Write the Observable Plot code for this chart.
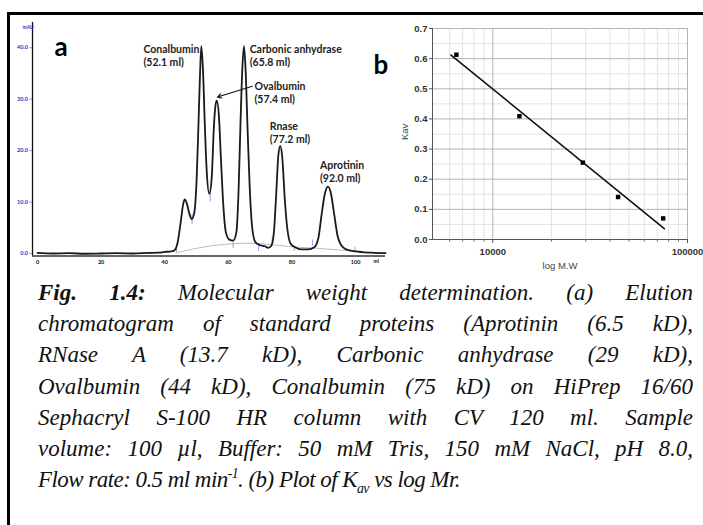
<!DOCTYPE html>
<html>
<head>
<meta charset="utf-8">
<script src="https://cdn.jsdelivr.net/npm/d3@7"></script>
<script src="https://cdn.jsdelivr.net/npm/@observablehq/plot@0.6"></script>
<style>
  html, body { margin: 0; padding: 0; background: #fff; }
  #wrap { position: relative; width: 703px; height: 525px; overflow: hidden; background: #fff; }
  #pa { position: absolute; left: 0; top: 0; }
  #pb { position: absolute; left: 380px; top: 0; }
  #frame { position: absolute; left: 7px; top: 12px; width: 720px; height: 540px;
           border-left: 3px solid #000; border-top: 3px solid #000; pointer-events: none; }
  #cap { position: absolute; left: 38px; top: 277px; width: 655px;
         font-family: "Liberation Serif", serif; font-style: italic; font-size: 23px; color: #111; }
  #cap div { height: 31.2px; line-height: 31.2px; white-space: nowrap;
             text-align: justify; text-align-last: justify; }
  #cap div.last { text-align: left; text-align-last: left; letter-spacing: -0.55px; }
  #cap sub, #cap sup { font-size: 60%; line-height: 0; }
</style>
</head>
<body>
<div id="wrap">
  <div id="pa"></div>
  <div id="pb"></div>
  <div id="frame"></div>
  <div id="cap"></div>
</div>
<script>
// ---------- Panel a: elution chromatogram ----------
const traceML = [0, 5, 10, 15, 20, 25, 30, 35, 38, 40, 42, 43, 44, 45, 45.8, 46.3, 47, 47.8, 48.5, 49.3, 50, 50.6, 51.1, 51.5, 52.0, 52.6, 53.2, 54.0, 54.8, 55.4, 56.0, 56.4, 57.0, 57.7, 58.4, 59.2, 60.3, 61.5, 62.5, 63.2, 63.8, 64.4, 64.9, 65.4, 66.0, 66.7, 67.5, 68.5, 70, 71.5, 72.5, 73.5, 74.3, 75.0, 75.7, 76.3, 76.9, 77.8, 78.5, 79.5, 81, 83, 85, 87, 88.3, 89.3, 90.3, 91.3, 92.2, 93.3, 94.3, 95.5, 97, 100, 105, 109.4];
const traceAU = [0.1, 0.0, 0.05, -0.05, 0.0, 0.05, 0.0, 0.1, 0.15, 0.3, 0.4, 0.6, 2.0, 6.0, 9.6, 10.5, 9.6, 7.6, 6.7, 8.0, 14, 25, 35, 40.3, 36, 25, 16, 11.6, 15, 24, 29, 29.7, 27, 18, 9.5, 4.2, 2.7, 2.5, 4, 12, 25, 36, 40.3, 36, 25, 13, 5, 2.2, 1.6, 1.4, 1.1, 1.5, 4, 11, 19, 20.9, 19, 10, 5, 2, 1.2, 0.8, 0.8, 1.2, 3, 7.5, 11.5, 13.0, 11.8, 7.5, 3.5, 1.6, 0.8, 0.4, 0.15, 0.05];
const baseML = [43.5, 50, 56, 62, 66, 72, 80, 88, 97, 102];
const baseAU = [0.1, 1.0, 1.6, 1.9, 2.0, 1.8, 1.3, 1.0, 0.6, 0.4];
const markML = [43.7, 48.6, 54.3, 61.5, 69.5, 73.8, 80.7, 86.5, 99.8];
const markLo = [0.2, 5.6, 10.0, 1.0, 0.4, 1.8, 0.4, 1.4, 0.2];
const markHi = [1.2, 7.6, 12.2, 2.2, 1.4, 3.2, 1.4, 2.6, 1.2];
const xTicksA = [0, 20, 40, 60, 80, 100];
const yTicksA = [0, 10, 20, 30, 40];
const peakNames = ["Conalbumin", "Carbonic anhydrase", "Ovalbumin", "Rnase", "Aprotinin"];
const peakVols = ["(52.1 ml)", "(65.8 ml)", "(57.4 ml)", "(77.2 ml)", "(92.0 ml)"];
const labelML = [33.3, 66.7, 68.2, 73.0, 88.8];
const labelAU = [39.7, 39.7, 32.5, 24.7, 17.0];
const arrowFrom = [67.5, 32.5];
const arrowTo = [56.6, 30.4];

const xMinA = -1.57, xMaxA = 109.4, yMinA = -0.49, yMaxA = 44.9;
const trace = traceML.map((v, i) => ({ml: v, au: traceAU[i]}));
const base = baseML.map((v, i) => ({ml: v, au: baseAU[i]}));
const marks = markML.map((v, i) => ({ml: v, lo: markLo[i], hi: markHi[i]}));
const labels = peakNames.map((n, i) => ({ml: labelML[i], au: labelAU[i], name: n, vol: peakVols[i]}));
const blue = "#2636d0";

const pa = Plot.plot({
  width: 390, height: 270,
  marginLeft: 32, marginRight: 5, marginTop: 22, marginBottom: 14.5,
  style: {background: "transparent", overflow: "visible", fontFamily: "Lato, sans-serif"},
  x: {domain: [xMinA, xMaxA]},
  y: {domain: [yMinA, yMaxA]},
  marks: [
    Plot.line(base, {x: "ml", y: "au", stroke: "#aaa", strokeWidth: 0.8, curve: "monotone-x"}),
    Plot.ruleX(marks, {x: "ml", y1: "lo", y2: "hi", stroke: "#8fa0f0", strokeWidth: 1}),
    Plot.line(trace, {x: "ml", y: "au", stroke: "#1a1a1a", strokeWidth: 1.8, curve: "monotone-x"}),
    Plot.ruleX([xMinA], {stroke: "#111", strokeWidth: 1.3}),
    Plot.ruleY([yMinA], {stroke: "#333", strokeWidth: 1.6}),
    Plot.axisY(yTicksA, {tickFormat: d => d.toFixed(1), tickSize: 2.5, tickPadding: 2, fontSize: 5.5, fontWeight: "bold", fill: blue, stroke: "#7f90ee", label: null}),
    Plot.axisX(xTicksA, {tickSize: 0, tickPadding: 4, fontSize: 5.5, fontWeight: "bold", fill: "#111", label: null}),
    Plot.text(["mAU"], {frameAnchor: "top-left", dx: -10, dy: 3, fontSize: 5, fontWeight: "bold", fill: blue}),
    Plot.text(["ml"], {x: 106.5, y: yMinA, dy: 5, fontSize: 5, fontWeight: "bold", fill: "#111"}),
    Plot.text(["a"], {frameAnchor: "top-left", dx: 22, dy: 15, fontSize: 26, fontWeight: "bold", fill: "#000", fontFamily: "Lato, sans-serif"}),
    Plot.text(labels, {x: "ml", y: "au", text: "name", textAnchor: "start", lineAnchor: "middle", fontSize: 10.5, fontWeight: "bold", fill: "#222"}),
    Plot.text(labels, {x: "ml", y: "au", text: "vol", textAnchor: "start", lineAnchor: "middle", dy: 13, fontSize: 10.5, fontWeight: "bold", fill: "#222"}),
    Plot.arrow([{x1: arrowFrom[0], y1: arrowFrom[1], x2: arrowTo[0], y2: arrowTo[1]}], {x1: "x1", y1: "y1", x2: "x2", y2: "y2", stroke: "#111", strokeWidth: 1.1, headLength: 6})
  ]
});
document.getElementById("pa").appendChild(pa);

// ---------- Panel b: Kav vs log Mr ----------
const mw = [6500, 13700, 29000, 44000, 75000];
const kav = [0.613, 0.409, 0.255, 0.141, 0.07];
const fitMW = [6100, 76000];
const fitKav = [0.612, 0.036];
const yMajorB = [0, 0.1, 0.2, 0.3, 0.4, 0.5, 0.6, 0.7];
const yMinorB = [0.05, 0.15, 0.25, 0.35, 0.45, 0.55, 0.65];
const xMajorB = [10000, 100000];
const xMinorB = [6000, 7000, 8000, 9000, 20000, 30000, 40000, 50000, 60000, 70000, 80000, 90000];
const xMinB = 4900;

const pts = mw.map((v, i) => ({mw: v, kav: kav[i]}));
const fit = fitMW.map((v, i) => ({mw: v, kav: fitKav[i]}));

const pb = Plot.plot({
  width: 323, height: 280,
  marginLeft: 52, marginRight: 16, marginTop: 28, marginBottom: 41,
  style: {background: "transparent", overflow: "visible", fontFamily: "Liberation Sans, Arial, sans-serif"},
  x: {type: "log", domain: [xMinB, 100000]},
  y: {domain: [0, 0.7]},
  marks: [
    Plot.gridY(yMinorB, {stroke: "#e2e2e2", strokeOpacity: 1, strokeWidth: 1}),
    Plot.gridX(xMinorB, {stroke: "#e2e2e2", strokeOpacity: 1, strokeWidth: 1}),
    Plot.gridY(yMajorB, {stroke: "#b4b4b4", strokeOpacity: 1, strokeWidth: 1}),
    Plot.gridX(xMajorB, {stroke: "#b4b4b4", strokeOpacity: 1, strokeWidth: 1}),
    Plot.ruleX([xMinB], {stroke: "#555", strokeWidth: 1}),
    Plot.ruleY([0], {stroke: "#555", strokeWidth: 1}),
    Plot.axisY(yMajorB, {tickFormat: d => d.toFixed(1), tickSize: 3, tickPadding: 2, fontSize: 9.5, fontWeight: "bold", fill: "#333", stroke: "#555", label: null}),
    Plot.axisX(xMinorB, {tickFormat: () => "", tickSize: 2.5, stroke: "#666", label: null}),
    Plot.axisX(xMajorB, {tickFormat: d => String(d), tickSize: 4, tickPadding: 5, fontSize: 9.5, fontWeight: "bold", fill: "#333", stroke: "#555", label: null}),
    Plot.text(["log M.W"], {frameAnchor: "bottom", dy: 29, fontSize: 9.5, fill: "#444"}),
    Plot.text(["Kav"], {frameAnchor: "left", dx: -28, dy: 6, rotate: -90, fontSize: 9.5, fill: "#444"}),
    Plot.text(["b"], {frameAnchor: "top-left", dx: -59, dy: 27, fontSize: 26, fontWeight: "bold", fill: "#000", fontFamily: "Lato, sans-serif"}),
    Plot.line(fit, {x: "mw", y: "kav", stroke: "#111", strokeWidth: 1.6}),
    Plot.dot(pts, {x: "mw", y: "kav", symbol: "square", r: 2.5, fill: "#000", stroke: "none"})
  ]
});
document.getElementById("pb").appendChild(pb);

// ---------- Caption ----------
const capLines = [
  "<b>Fig. 1.4:</b> Molecular weight determination. (a) Elution",
  "chromatogram of standard proteins (Aprotinin (6.5 kD),",
  "RNase A (13.7 kD), Carbonic anhydrase (29 kD),",
  "Ovalbumin (44 kD), Conalbumin (75 kD) on HiPrep 16/60",
  "Sephacryl S-100 HR column with CV 120 ml. Sample",
  "volume: 100 µl, Buffer: 50 mM Tris, 150 mM NaCl, pH 8.0,",
  "Flow rate: 0.5 ml min<sup>-1</sup>. (b) Plot of K<sub>av</sub> vs log Mr."
];
const cap = document.getElementById("cap");
capLines.forEach((t, i) => {
  const d = document.createElement("div");
  d.innerHTML = t;
  if (i === capLines.length - 1) d.className = "last";
  cap.appendChild(d);
});
</script>
</body>
</html>
